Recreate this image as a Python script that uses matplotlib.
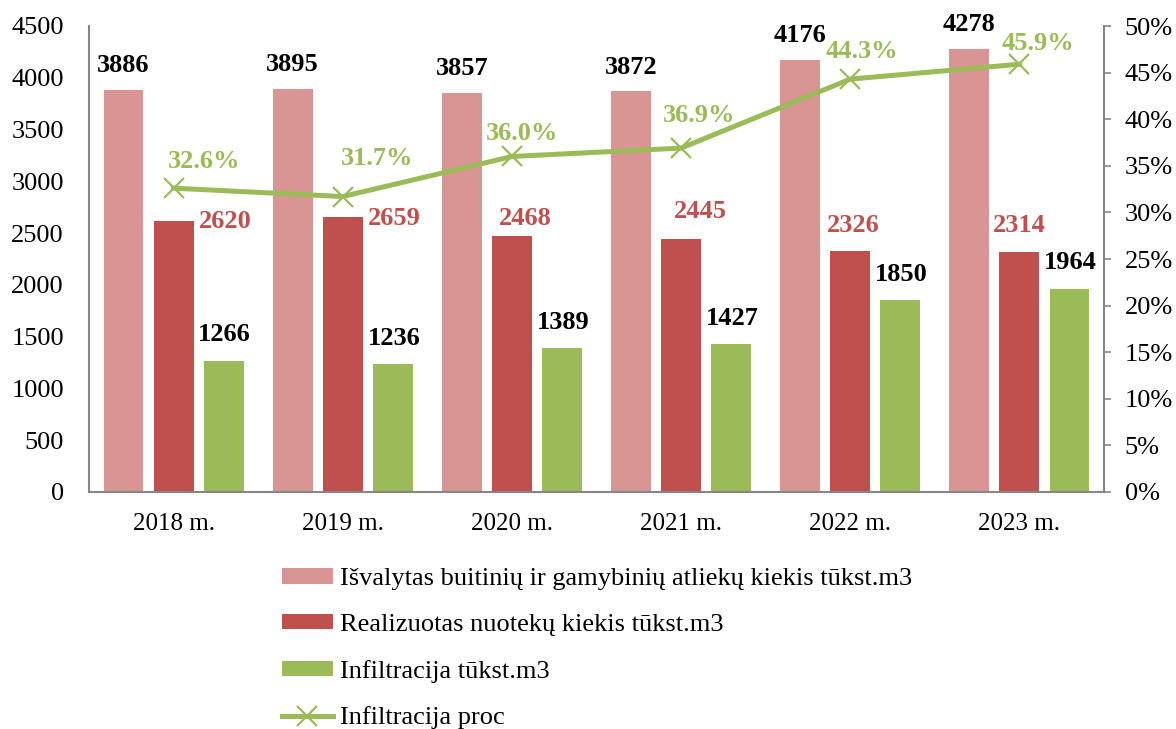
import numpy as np
import matplotlib.pyplot as plt
from matplotlib.ticker import FuncFormatter

years = ["2018 m.", "2019 m.", "2020 m.", "2021 m.", "2022 m.", "2023 m."]
isvalytas = [3886, 3895, 3857, 3872, 4176, 4278]
realizuotas = [2620, 2659, 2468, 2445, 2326, 2314]
infiltracija = [1266, 1236, 1389, 1427, 1850, 1964]
infiltracija_proc = [32.6, 31.7, 36.0, 36.9, 44.3, 45.9]

# label offsets in pixels (dx, dy) as placed by hand in the original
red_off = [(52, -1), (52, -2), (13, 18), (19, 27), (3, 26), (0, 27)]
proc_off = [(31, 27), (34, 38), (10, 23), (18, 33), (12, 28), (19, 21)]

c_pink = "#D99594"
c_red = "#C0504D"
c_green = "#9BBB59"
c_axis = "#868686"

plt.rcParams["font.family"] = ["Liberation Serif", "DejaVu Serif"]
fs = 19

fig = plt.figure(figsize=(11.76, 7.29), dpi=100)
ax = fig.add_axes([89/1176, 1-492/729, (1104-89)/1176, (492-26)/729])
ax2 = ax.twinx()

x = np.arange(len(years))
w = 0.236
off = 0.296
b1 = ax.bar(x - off, isvalytas, w, color=c_pink, label="Išvalytas buitinių ir gamybinių atliekų kiekis tūkst.m3")
b2 = ax.bar(x, realizuotas, w, color=c_red, label="Realizuotas nuotekų kiekis tūkst.m3")
b3 = ax.bar(x + off, infiltracija, w, color=c_green, label="Infiltracija tūkst.m3")

ax.set_xlim(-0.5, len(years) - 0.5)
ax.set_ylim(0, 4500)
ax.set_yticks(np.arange(0, 4501, 500))
ax.set_xticks(x)
ax.set_xticklabels(years)
ax.tick_params(axis="both", length=0, labelsize=fs)
ax.tick_params(axis="x", pad=15, labelsize=18)
ax.tick_params(axis="y", pad=18)
for s in ["top", "right"]:
    ax.spines[s].set_visible(False)
for s in ["left", "bottom"]:
    ax.spines[s].set_color(c_axis)
    ax.spines[s].set_linewidth(1.5)

ln, = ax2.plot(x, infiltracija_proc, color=c_green, lw=3.6, marker="x", ms=14, mew=1.6,
               label="Infiltracija proc")
ax2.set_ylim(0, 50)
ax2.set_yticks(np.arange(0, 51, 5))
ax2.yaxis.set_major_formatter(FuncFormatter(lambda v, p: f"{v:.0f}%"))
ax2.tick_params(axis="y", labelsize=fs, length=5, color=c_axis, width=1.2, pad=10)
for s in ["top", "left", "bottom"]:
    ax2.spines[s].set_visible(False)
ax2.spines["right"].set_color(c_axis)
ax2.spines["right"].set_linewidth(1.5)

for i in range(len(years)):
    ax.annotate(f"{isvalytas[i]}", (x[i] - off, isvalytas[i]), xytext=(0, 24),
                textcoords="offset pixels", ha="center", va="center",
                fontsize=fs, fontweight="bold", color="black")
    ax.annotate(f"{realizuotas[i]}", (x[i], realizuotas[i]), xytext=red_off[i],
                textcoords="offset pixels", ha="center", va="center",
                fontsize=fs, fontweight="bold", color=c_red)
    ax.annotate(f"{infiltracija[i]}", (x[i] + off, infiltracija[i]), xytext=(1, 26),
                textcoords="offset pixels", ha="center", va="center",
                fontsize=fs, fontweight="bold", color="black")
    ax2.annotate(f"{infiltracija_proc[i]:.1f}%", (x[i], infiltracija_proc[i]), xytext=proc_off[i],
                 textcoords="offset pixels", ha="center", va="center",
                 fontsize=fs, fontweight="bold", color=c_green)

handles = [b1, b2, b3, ln]
labels = [h.get_label() for h in handles]
fig.legend(handles, labels, loc="upper left", bbox_to_anchor=(282/1176, 1-568/729),
           frameon=False, fontsize=fs, handlelength=1.93, handleheight=0.53,
           handletextpad=0.27, labelspacing=0.9, borderaxespad=0, borderpad=0)

fig.savefig("out.png", dpi=100)
